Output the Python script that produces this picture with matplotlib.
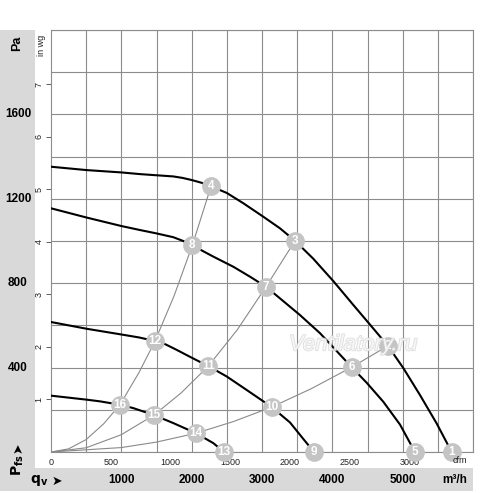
import numpy as np
import matplotlib
matplotlib.use("Agg")
import matplotlib.pyplot as plt
from matplotlib import transforms
from matplotlib.patches import Rectangle
import matplotlib.patheffects as pe

plt.rcParams['font.family'] = ['Liberation Sans', 'DejaVu Sans']

# ---------------- data (m³/h, Pa) ----------------
curve1_q = [0, 508, 1000, 1265, 1739, 1870, 2000, 2140, 2275, 2498, 2734, 3019, 3256, 3469, 3729, 4014, 4298, 4583, 4790, 5009, 5246, 5484, 5697]
curve1_p = [1352, 1336, 1325, 1317, 1306, 1299, 1289, 1276, 1259, 1228, 1179, 1115, 1060, 1001, 916, 810, 697, 585, 503, 398, 270, 135, 0]

curve2_q = [0, 508, 1000, 1265, 1500, 1739, 1880, 2009, 2308, 2592, 2829, 3057, 3256, 3540, 3825, 4085, 4275, 4489, 4725, 4962, 5175]
curve2_p = [1155, 1111, 1071, 1052, 1036, 1018, 1000, 979, 926, 878, 831, 783, 728, 649, 563, 470, 402, 328, 238, 130, 0]

curve3_q = [0, 508, 981, 1250, 1479, 1630, 1787, 2000, 2237, 2498, 2782, 3138, 3398, 3587, 3740]
curve3_p = [616, 584, 558, 543, 526, 510, 484, 447, 407, 358, 294, 213, 140, 62, 0]

curve4_q = [0, 508, 697, 981, 1170, 1464, 1739, 2062, 2308, 2460]
curve4_p = [267, 248, 240, 224, 208, 175, 137, 89, 42, 0]

sys1_q = [0, 250, 500, 750, 981, 1250, 1479, 1750, 2009, 2275]
sys1_p = [0, 15, 59, 134, 224, 376, 526, 740, 979, 1259]
sys2_q = [0, 500, 1000, 1464, 1850, 2237, 2650, 3057, 3469]
sys2_p = [0, 20, 82, 175, 280, 407, 580, 783, 1001]
sys3_q = [0, 1000, 1500, 2062, 2600, 3138, 3700, 4275, 4790]
sys3_p = [0, 21, 47, 89, 145, 213, 300, 402, 503]

point_labels = ['1', '2', '3', '4', '5', '6', '7', '8', '9', '10', '11', '12', '13', '14', '15', '16']
point_q = [5697, 4790, 3469, 2275, 5175, 4275, 3057, 2009, 3740, 3138, 2237, 1479, 2460, 2062, 1464, 981]
point_p = [0, 503, 1001, 1259, 0, 402, 783, 979, 0, 213, 407, 526, 0, 89, 175, 224]

pa_ticks = [400, 800, 1200, 1600]
m3h_ticks = [1000, 2000, 3000, 4000, 5000]
cfm_ticks = [0, 500, 1000, 1500, 2000, 2500, 3000]
inwg_ticks = [1, 2, 3, 4, 5, 6, 7]
M3H_PER_CFM = 1.699
PA_PER_INWG = 249.09

# ---------------- styling ----------------
W, H = 500, 493
BAND = '#d9d9d9'
GRID = '#8c8c8c'
SYS = '#8a8a8a'
MARK = '#c4c4c4'

def fx(px):
    return px / W

def fy(py):
    return 1 - py / H

fig = plt.figure(figsize=(W / 100, H / 100), dpi=100)
ax = fig.add_axes([fx(51), fy(452), 422 / W, 422 / H])

# grey bands
fig.add_artist(Rectangle((0, fy(491)), fx(35), fy(30) - fy(491), transform=fig.transFigure,
                         facecolor=BAND, edgecolor='none', zorder=-1))
fig.add_artist(Rectangle((0, fy(491)), fx(473), fy(468) - fy(491), transform=fig.transFigure,
                         facecolor=BAND, edgecolor='none', zorder=-1))

ax.set_xlim(0, 6000)
ax.set_ylim(0, 2000)
ax.set_axisbelow(True)
ax.set_xticks(np.arange(0, 6001, 500), minor=True)
ax.set_yticks(np.arange(0, 2001, 200), minor=True)
ax.grid(which='minor', color=GRID, lw=0.8)
ax.tick_params(which='minor', length=0)
for s in ax.spines.values():
    s.set_color(GRID)
    s.set_linewidth(0.8)

ax.set_xticks([c * M3H_PER_CFM for c in cfm_ticks])
ax.set_xticklabels([str(c) for c in cfm_ticks])
ax.tick_params(axis='x', which='major', length=0, pad=4, labelsize=6.5, labelcolor='#222222')
ax.set_yticks([v * PA_PER_INWG for v in inwg_ticks])
ax.set_yticklabels([str(v) for v in inwg_ticks], rotation=90, va='center')
ax.tick_params(axis='y', which='major', length=3.5, width=0.6, color='#444444', pad=2,
               labelsize=6.5, labelcolor='#222222')

# system curves
for q, p in [(sys1_q, sys1_p), (sys2_q, sys2_p), (sys3_q, sys3_p)]:
    ax.plot(q, p, color=SYS, lw=0.8, zorder=2)

# fan curves
for q, p in [(curve1_q, curve1_p), (curve2_q, curve2_p), (curve3_q, curve3_p), (curve4_q, curve4_p)]:
    ax.plot(q, p, color='black', lw=1.5, zorder=3, solid_joinstyle='round', solid_capstyle='round')

# operating points
ax.plot(point_q, point_p, 'o', ms=13.5, color=MARK, mec='none', zorder=5, clip_on=False)
for lab, q, p in zip(point_labels, point_q, point_p):
    ax.text(q, p, lab, color='white', fontsize=8.5, fontweight='bold', ha='center', va='center',
            zorder=6, clip_on=False)

# texts
fig.text(fx(460), fy(460.5), 'cfm', fontsize=6.5, color='#222222', ha='center', va='center')
fig.text(fx(42), fy(45), 'in wg', rotation=90, fontsize=6.5, color='#222222', ha='center', va='center')
fig.text(fx(17), fy(43), 'Pa', rotation=90, fontsize=9, fontweight='bold', ha='center', va='center')

tr_pa = transforms.blended_transform_factory(fig.transFigure, ax.transData)
for v in pa_ticks:
    ax.text(fx(18), v, str(v), transform=tr_pa, fontsize=8.5, fontweight='bold', ha='center', va='center')

tr_m3 = transforms.blended_transform_factory(ax.transData, fig.transFigure)
for v in m3h_ticks:
    ax.text(v, fy(480), str(v), transform=tr_m3, fontsize=8.5, fontweight='bold', ha='center', va='center')
fig.text(fx(455), fy(480), 'm³/h', fontsize=8.5, fontweight='bold', ha='center', va='center')

fig.text(fx(18), fy(465), r'$\mathbf{P_{fs}}$', rotation=90, fontsize=10, ha='center', va='center')
fig.text(fx(18), fy(448), '➤', rotation=90, fontsize=9, family='DejaVu Sans', ha='center', va='center')
fig.text(fx(39), fy(480), r'$\mathbf{q_v}$', fontsize=10, ha='center', va='center')
fig.text(fx(57), fy(481), '➤', fontsize=9, family='DejaVu Sans', ha='center', va='center')

# watermark
ax.text(0.716, 0.254, 'Ventilatory.ru', transform=ax.transAxes, fontsize=16, style='italic',
        color='white', alpha=0.7, ha='center', va='center', zorder=10,
        path_effects=[pe.withStroke(linewidth=1.2, foreground='#d0d0d0')])

fig.savefig('out.png', dpi=100)
